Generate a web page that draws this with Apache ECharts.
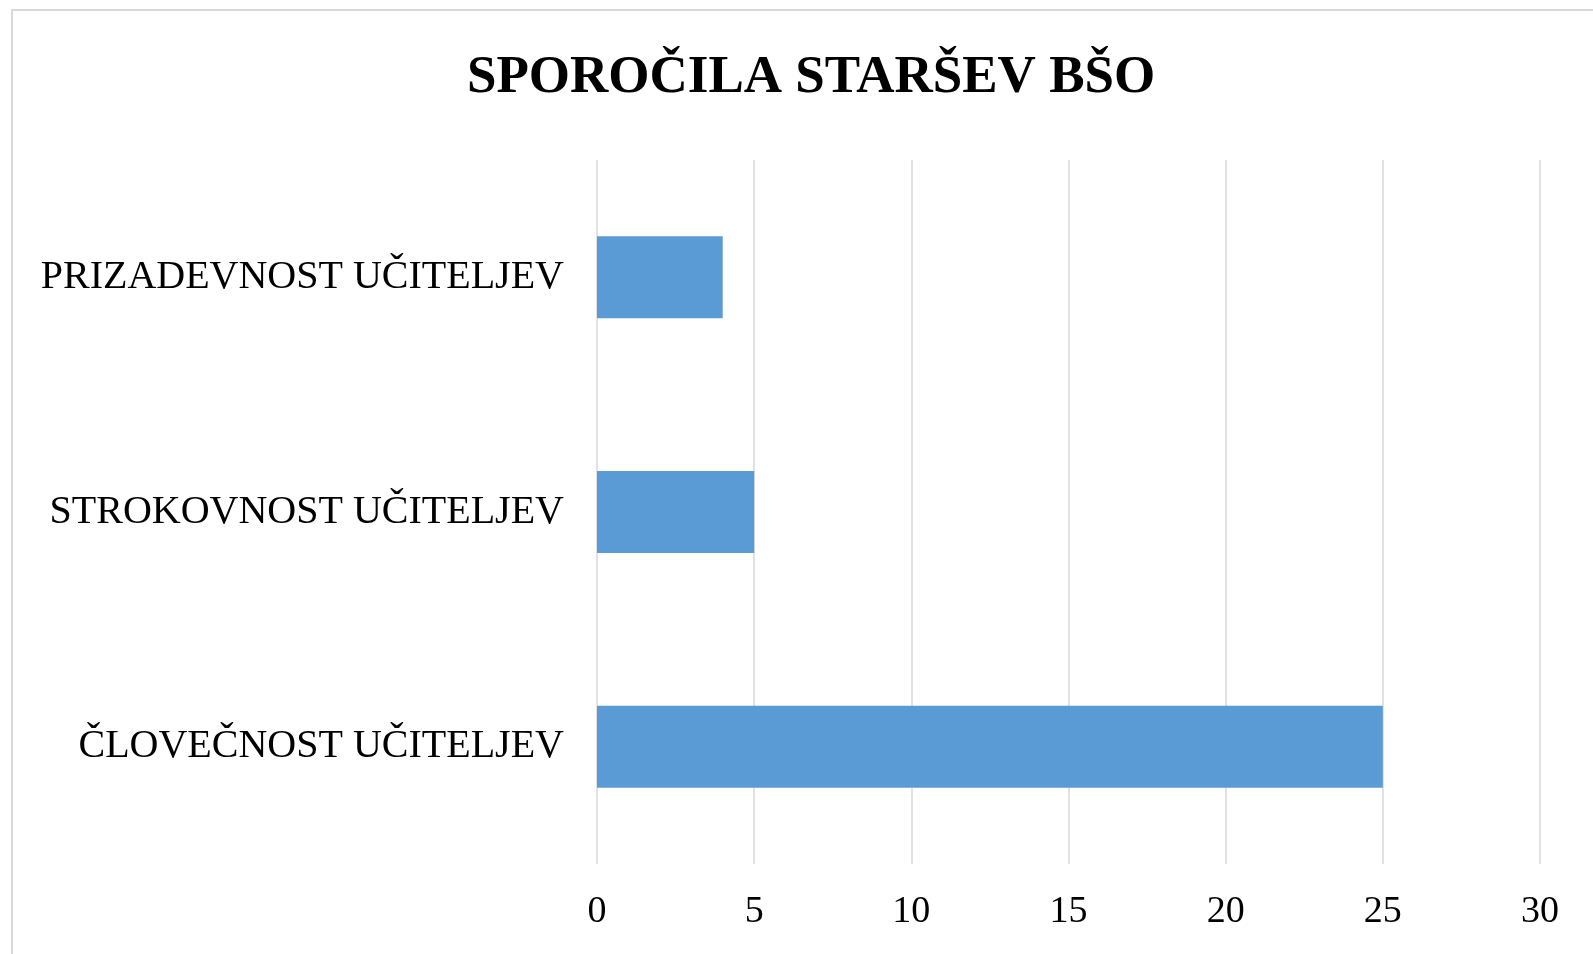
<!DOCTYPE html>
<html>
<head>
<meta charset="utf-8">
<script src="https://cdn.jsdelivr.net/npm/echarts@6/dist/echarts.min.js"></script>
<style>
  html, body { margin: 0; padding: 0; background: #fff; overflow: hidden; }
  .frame {
    position: absolute; left: 11px; top: 9px; width: 1700px; height: 1100px;
    border: 2px solid #d9d9d9; box-sizing: border-box;
  }
  #chart { position: absolute; left: 0; top: 0; width: 1593px; height: 954px; }
</style>
</head>
<body>
<div class="frame"></div>
<div id="chart"></div>
<script>
const chartTitle = "SPOROČILA STARŠEV BŠO";
const categories = ["PRIZADEVNOST UČITELJEV", "STROKOVNOST UČITELJEV", "ČLOVEČNOST UČITELJEV"];
const values = [4, 5, 25];
const tickMin = 0;
const tickMax = 30;
const tickStep = 5;

const fontFamily = "'Liberation Serif', 'Times New Roman', serif";

const chart = echarts.init(document.getElementById("chart"));
chart.setOption({
  animation: false,
  title: {
    text: chartTitle,
    left: 462,
    top: 47,
    padding: 5,
    textStyle: { fontFamily, fontSize: 53, fontWeight: "bold", color: "#000" },
  },
  grid: { left: 597, right: 53, top: 160, bottom: 90, containLabel: false },
  xAxis: {
    type: "value",
    min: tickMin,
    max: tickMax,
    interval: tickStep,
    axisLine: { show: false },
    axisTick: { show: false },
    splitLine: { lineStyle: { color: "#d9d9d9", width: 1.5 } },
    axisLabel: { fontFamily, fontSize: 38, color: "#000", margin: 29 },
  },
  yAxis: {
    type: "category",
    inverse: true,
    data: categories,
    axisLine: { show: false },
    axisTick: { show: false },
    axisLabel: { fontFamily, fontSize: 40, color: "#000", margin: 33 },
  },
  series: [
    {
      type: "bar",
      data: values,
      barWidth: 82,
      itemStyle: { color: "#5B9BD5" },
    },
  ],
});
</script>
</body>
</html>
